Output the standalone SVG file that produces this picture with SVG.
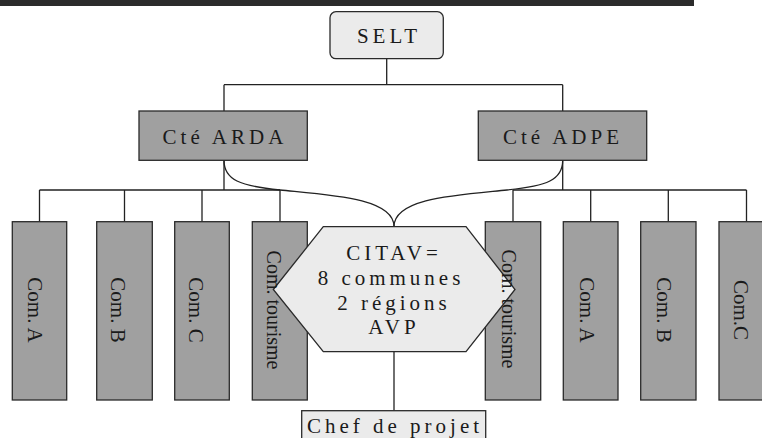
<svg xmlns="http://www.w3.org/2000/svg" width="762" height="438" viewBox="0 0 762 438">
<style>
.ln{fill:none;stroke:#222;stroke-width:1.3}
.box{fill:#a0a0a0;stroke:#2a2a2a;stroke-width:1.3}
.lt{fill:#ebebeb;stroke:#2a2a2a;stroke-width:1.3}
.t{font-family:"Liberation Serif","Times New Roman",serif;font-size:21px;fill:#1a1a1a;text-anchor:middle}
.sp{letter-spacing:4px}
</style>
<rect x="0" y="0" width="694" height="6" fill="#2b2b2b"/>
<g id="connectors">
<path class="ln" d="M386.7,58.7V84.7M224,84.7H562.7M224,84.7V111M562.7,84.7V111"/>
<path class="ln" d="M224,160.3V190M39.5,190H280M39.5,190V221.7M124.5,190V221.7M202,190V221.7M280,190V221.7"/>
<path class="ln" d="M562.7,160.3V190M513,190H746.5M513,190V221.7M590.7,190V221.7M668.3,190V221.7M746.5,190V221.7"/>
<path class="ln" d="M224,160.3C224,180 240,186 280,190C330,195 394,198 394,226.7"/>
<path class="ln" d="M562.7,160.3C562.7,180 547,186 507,190C457,195 394,198 394,226.7"/>
<path class="ln" d="M394,351.7V410.7"/>
</g>
<g id="selt"><rect class="lt" x="330" y="11.7" width="113.3" height="47" rx="6"/><text class="t sp" x="389" y="43.3">SELT</text></g>
<g id="cte-arda"><rect class="box" x="139" y="111" width="168.3" height="49.3"/><text class="t sp" x="225" y="144">Cté ARDA</text></g>
<g id="cte-adpe"><rect class="box" x="478.3" y="111" width="168.4" height="49.3"/><text class="t sp" x="563" y="144">Cté ADPE</text></g>
<g id="com-a-left"><rect class="box" x="12.3" y="221.7" width="54.4" height="178.3"/><text class="t" transform="translate(27.5,310) rotate(90)">Com. A</text></g>
<g id="com-b-left"><rect class="box" x="96.7" y="221.7" width="55.6" height="178.3"/><text class="t" transform="translate(111,310) rotate(90)">Com. B</text></g>
<g id="com-c-left"><rect class="box" x="174.7" y="221.7" width="54.6" height="178.3"/><text class="t" transform="translate(189,310) rotate(90)">Com. C</text></g>
<g id="com-tourisme-left"><rect class="box" x="252.3" y="221.7" width="55" height="178.3"/></g>
<g id="com-tourisme-right"><rect class="box" x="485.3" y="221.7" width="55.4" height="178.3"/></g>
<g id="com-a-right"><rect class="box" x="563.3" y="221.7" width="54.7" height="178.3"/><text class="t" transform="translate(579.5,310) rotate(90)">Com. A</text></g>
<g id="com-b-right"><rect class="box" x="640.7" y="221.7" width="55.3" height="178.3"/><text class="t" transform="translate(656.7,310) rotate(90)">Com. B</text></g>
<g id="com-c-right"><rect class="box" x="719" y="221.7" width="55" height="178.3"/><text class="t" transform="translate(733.5,310) rotate(90)">Com.C</text></g>
<g id="citav"><polygon class="lt" points="273.3,289.5 323.3,226.7 466,226.7 515,289.5 466,351.7 323.3,351.7"/>
<text class="t sp" x="394" y="260">CITAV=</text>
<text class="t sp" x="391" y="285">8 communes</text>
<text class="t sp" x="394" y="310">2 régions</text>
<text class="t sp" x="394" y="333.5">AVP</text></g>
<g id="com-tourisme-left-label"><text class="t" style="font-size:20px" transform="translate(267,310) rotate(90)">Com. tourisme</text></g>
<g id="com-tourisme-right-label"><text class="t" style="font-size:20px" transform="translate(501.5,309) rotate(90)">Com. tourisme</text></g>
<g id="chef-de-projet"><rect class="lt" x="301.7" y="410.7" width="184" height="40"/><text class="t sp" x="395" y="433.3">Chef de projet</text></g>
</svg>
